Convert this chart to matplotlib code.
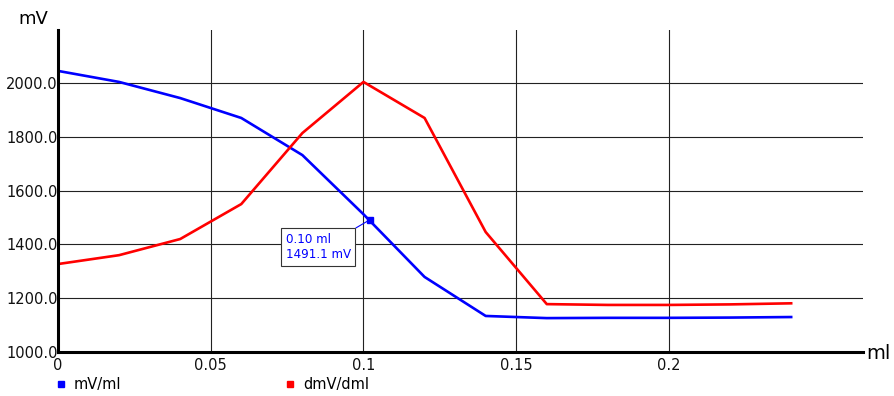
import matplotlib.pyplot as plt
from matplotlib.lines import Line2D

# volumes (ml)
vol = [0.0, 0.02, 0.04, 0.06, 0.08, 0.10, 0.12, 0.14, 0.16, 0.18, 0.20, 0.22, 0.24]
# mV/ml curve
mv = [2045, 2004, 1944, 1870, 1732, 1512, 1279, 1134, 1126, 1127, 1127, 1128, 1130]
# dmV/dml curve
dmv = [1327, 1360, 1420, 1550, 1814, 2004, 1870, 1446, 1178, 1175, 1175, 1177, 1181]

# hover point
pt_x = 0.102
pt_y = 1491.1
pt_label = "0.10 ml\n1491.1 mV"

xticks = [0, 0.05, 0.1, 0.15, 0.2]
xlabels = ["0", "0.05", "0.1", "0.15", "0.2"]
yticks = [1000, 1200, 1400, 1600, 1800, 2000]

plt.rcParams['font.family'] = ['DejaVu Sans']
fig = plt.figure(figsize=(8.95, 3.96), dpi=100)
ax = fig.add_axes([0.0648, 0.1111, 0.8994, 0.8131])

ax.plot(vol, mv, color='#0000ff', lw=1.9, solid_joinstyle='round', zorder=3)
ax.plot(vol, dmv, color='#ff0000', lw=1.9, solid_joinstyle='round', zorder=3)

ax.set_xlim(0, 0.2635)
ax.set_ylim(1000, 2197)
ax.set_xticks(xticks)
ax.set_xticklabels(xlabels)
ax.set_yticks(yticks)
ax.set_yticklabels(["%.1f" % v for v in yticks])
ax.tick_params(axis='both', length=0, labelsize=10.5, colors='#111111')
ax.tick_params(axis='y', pad=0)
ax.tick_params(axis='x', pad=4)

ax.grid(True, color='#222222', lw=0.8)
ax.set_axisbelow(True)
for s in ['top', 'right']:
    ax.spines[s].set_visible(False)
for s in ['left', 'bottom']:
    ax.spines[s].set_linewidth(2.2)
    ax.spines[s].set_color('black')
    ax.spines[s].set_zorder(4)

# hover marker and tooltip
ax.plot([pt_x], [pt_y], marker='s', ms=4, color='#0000ff', zorder=5)
ax.annotate(pt_label, xy=(pt_x, pt_y), xytext=(-84, -13), textcoords='offset pixels',
            ha='left', va='top', fontsize=8.6, color='#0000ff', linespacing=1.25,
            bbox=dict(boxstyle='square,pad=0.4', fc='white', ec='#333333', lw=0.8),
            arrowprops=dict(arrowstyle='-', color='#0000ff', lw=0.8,
                            relpos=(0.95, 1.0), shrinkA=0, shrinkB=0),
            zorder=6)

# axis titles
fig.text(0.02, 0.952, "mV", fontsize=13, ha='left', va='center')
fig.text(0.968, 0.108, "ml", fontsize=14, ha='left', va='center')

# legend
handles = [Line2D([], [], marker='s', ms=4, ls='none', color='#0000ff'),
           Line2D([], [], marker='s', ms=4, ls='none', color='#ff0000')]
fig.legend(handles, ["mV/ml", "dmV/dml"], ncol=2, loc='center left',
           bbox_to_anchor=(0.062, 0.028), frameon=False, fontsize=10.5,
           handlelength=0.8, handletextpad=0.45, columnspacing=11.2,
           borderaxespad=0, borderpad=0)

fig.savefig("out.png", dpi=100)
